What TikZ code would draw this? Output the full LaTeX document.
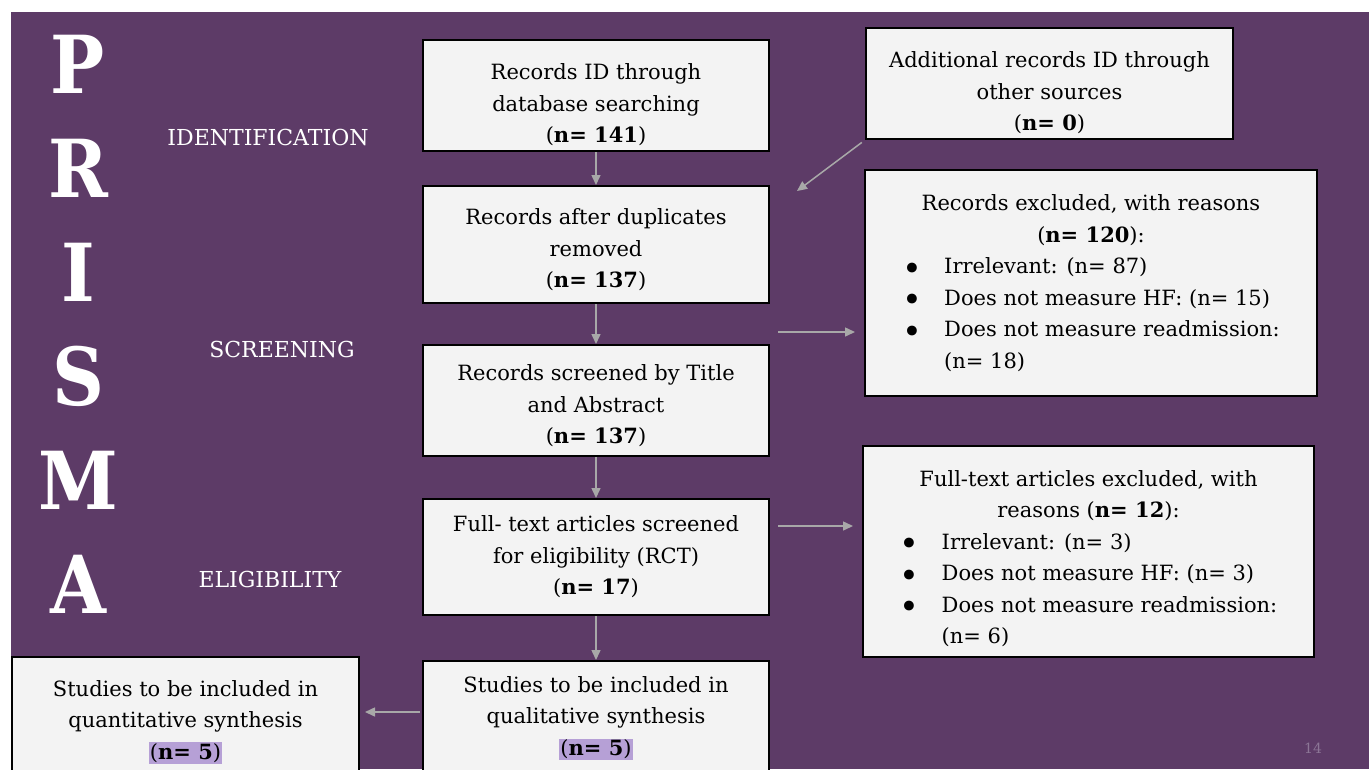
\documentclass[tikz,border=0pt]{standalone}
\usepackage{fontspec}
\setmainfont{DejaVu Serif}
\newfontfamily\condfont{DejaVu Serif Condensed}
\usetikzlibrary{positioning, arrows.meta}
\definecolor{slide}{RGB}{93,59,103}
\definecolor{boxfill}{RGB}{243,243,243}
\definecolor{hilite}{RGB}{182,160,214}
\definecolor{arrgrey}{RGB}{168,168,168}
\definecolor{pagegrey}{RGB}{140,118,150}
\newcommand{\itm}{\makebox[42pt][l]{\raisebox{-6.5pt}{\scalebox{1.6}{\textbullet}}}}
\newcommand{\nhl}[1]{{\setlength{\fboxsep}{1pt}\colorbox{hilite}{(\textbf{#1})}}}
\newcommand{\lift}[1]{\rule{0pt}{#1}}
\newcommand{\sink}[1]{\rule[-#1]{0pt}{0pt}}

\begin{document}
\begin{tikzpicture}[x=1pt, y=-1pt, font=\fontsize{21}{31.5}\selectfont,
  >={Triangle[length=10pt, width=9pt]},
  bx/.style={draw=black, line width=2pt, fill=boxfill, align=center,
             inner sep=4pt, minimum width=346pt},
  side/.style={bx, minimum width=452pt},
  stage/.style={text=white, font=\fontsize{22}{26}\selectfont},
  bigltr/.style={text=white, font=\fontsize{80}{80}\condfont\bfseries},
  a/.style={->, draw=arrgrey, line width=1.5pt}]
\useasboundingbox (0,0) rectangle (1369,769);
% Slide background with its thin white margin.
\fill[white] (0,0) rectangle (1369,769);
\fill[slide] (11,12) rectangle (1369,769);
\clip (0,0) rectangle (1369,769);
% PRISMA down the left edge.
\foreach \ch [count=\i from 0] in {P,R,I,S,M,A}
  \node[bigltr] (ltr\i) at (78,64+104*\i) {\ch};
% Stage labels.
\node[stage] (ident) at (268,137) {IDENTIFICATION};
\node[stage] (scrn) at (282,349) {SCREENING};
\node[stage] (elig) at (270,579) {ELIGIBILITY};
% Main flow (centre column).
\node[bx, minimum height=111pt] (idrec) at (596,95.5)
  {\lift{35pt}Records ID through\\database searching\\(\textbf{n= 141})};
\node[bx, minimum height=117pt, below=33pt of idrec] (dedup)
  {\lift{27pt}Records after duplicates\\removed\\(\textbf{n= 137})};
\node[bx, minimum height=111pt, below=40pt of dedup] (titab)
  {\lift{27pt}Records screened by Title\\and Abstract\\(\textbf{n= 137})};
\node[bx, minimum height=116pt, below=41pt of titab] (fulltx)
  {Full- text articles screened\\for eligibility (RCT)\\(\textbf{n= 17})};
\node[bx, minimum height=126pt, below=44pt of fulltx] (qual)
  {Studies to be included in\\qualitative synthesis\\\nhl{n= 5}\sink{16pt}};
\node[bx, minimum width=347pt, minimum height=126pt] (quant) at (185.5,720)
  {\lift{20pt}Studies to be included in\\quantitative synthesis\\\nhl{n= 5}};
% Side boxes (right column).
\node[bx, minimum width=367pt, minimum height=111pt] (addl) at (1049.5,83.5)
  {\lift{35pt}Additional records ID through\\other sources\\(\textbf{n= 0})};
\node[side, minimum height=226pt] (excl) at (1091,283)
  {\begin{tabular}{@{}l@{}}
   \multicolumn{1}{@{}c@{}}{Records excluded, with reasons}\\
   \multicolumn{1}{@{}c@{}}{(\textbf{n= 120}):}\\
   \itm Irrelevant: (n= 87)\\
   \itm Does not measure HF: (n= 15)\\
   \itm Does not measure readmission:\\
   \hspace{42pt}(n= 18)
   \end{tabular}};
\node[side, minimum width=451pt, minimum height=211pt] (ftexcl) at (1088.5,551.5)
  {\begin{tabular}{@{}l@{}}
   \multicolumn{1}{@{}c@{}}{\lift{36pt}Full-text articles excluded, with}\\
   \multicolumn{1}{@{}c@{}}{reasons (\textbf{n= 12}):}\\
   \itm Irrelevant: (n= 3)\\
   \itm Does not measure HF: (n= 3)\\
   \itm Does not measure readmission:\\
   \hspace{42pt}(n= 6)
   \end{tabular}};
% Free ends of the joining arrows.
\coordinate (merge) at (797,191);
\coordinate (scrgap) at (778,332);
\coordinate (elggap) at (778,526);
% Connectors.
\draw[a] (idrec) -- (dedup);
\draw[a] (dedup) -- (titab);
\draw[a] (titab) -- (fulltx);
\draw[a] (fulltx) -- (qual);
\draw[a, shorten <=4pt] (addl.south west) -- (merge);
\draw[a, shorten >=9pt] (scrgap) -- (scrgap-|excl.west);
\draw[a, shorten >=9pt] (elggap) -- (elggap-|ftexcl.west);
\draw[a, shorten <=2pt, shorten >=5pt] ([yshift=12pt]qual.west) -- ([yshift=12pt]qual.west-|quant.east);
% Slide number.
\node[text=pagegrey, font=\fontsize{14}{14}\selectfont] (pgno) at (1313,748) {14};
\end{tikzpicture}
\end{document}
